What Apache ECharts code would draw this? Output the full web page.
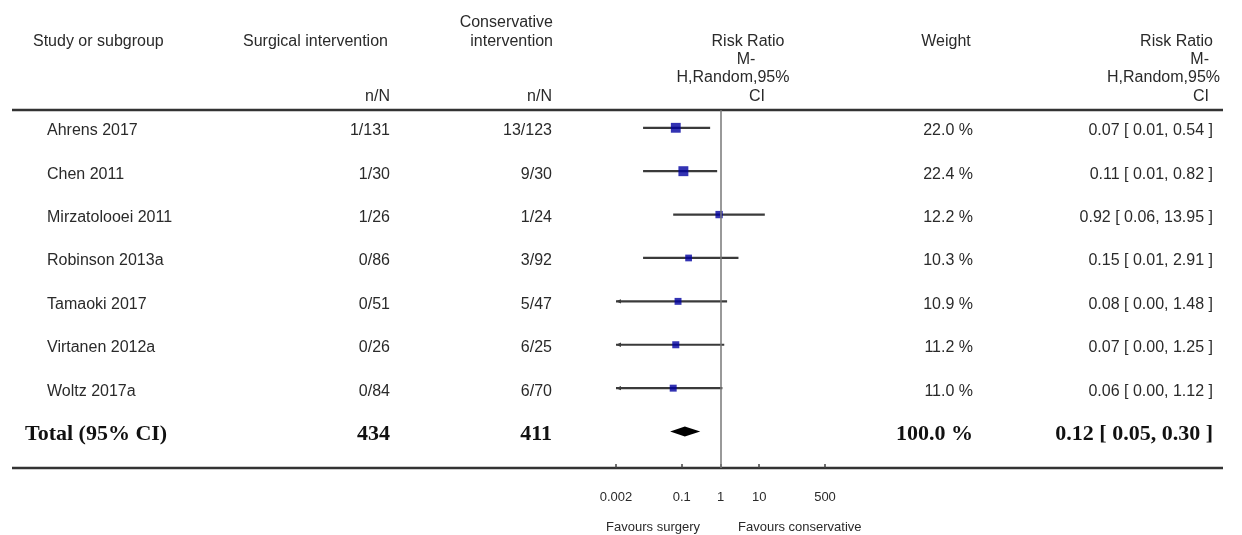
<!DOCTYPE html>
<html>
<head>
<meta charset="utf-8">
<title>Forest plot</title>
<script src="https://cdn.jsdelivr.net/npm/echarts@6/dist/echarts.min.js"></script>
<style>
  html, body { margin: 0; padding: 0; background: #fff; }
  #chart { width: 1242px; height: 535px; }
</style>
</head>
<body>
<div id="chart"></div>
<script>
// data
const studies = ['Ahrens 2017', 'Chen 2011', 'Mirzatolooei 2011', 'Robinson 2013a', 'Tamaoki 2017', 'Virtanen 2012a', 'Woltz 2017a'];
const surgEvents = [1, 1, 1, 0, 0, 0, 0];
const surgTotal = [131, 30, 26, 86, 51, 26, 84];
const consEvents = [13, 9, 1, 3, 5, 6, 6];
const consTotal = [123, 30, 24, 92, 47, 25, 70];
const weights = [22.0, 22.4, 12.2, 10.3, 10.9, 11.2, 11.0];
const rrEst = [0.07, 0.11, 0.92, 0.15, 0.08, 0.07, 0.06];
const rrLow = [0.01, 0.01, 0.06, 0.01, 0.002, 0.002, 0.002];
const rrHigh = [0.54, 0.82, 13.95, 2.91, 1.48, 1.25, 1.12];
const totalName = 'Total (95% CI)';
const totalWeight = 100.0;
const totalEst = [0.12];
const totalLow = [0.05];
const totalHigh = [0.30];
const tickValues = [0.002, 0.1, 1, 10, 500];
const tickLabels = ['0.002', '0.1', '1', '10', '500'];

const xMin = 0.002, xMax = 500;
const yMin = -0.41, yMax = 7.84;
const sans = "'Liberation Sans', Arial, sans-serif";
const serif = "'Liberation Serif', 'Times New Roman', serif";
const lineCol = '#3a3a3a';
const textCol = '#2a2a2a';

const chart = echarts.init(document.getElementById('chart'));

function tickText(v) {
  for (let i = 0; i < tickValues.length; i++) {
    if (Math.abs(Math.log10(v) - Math.log10(tickValues[i])) < 1e-6) return tickLabels[i];
  }
  return '';
}

chart.setOption({
  animation: false,
  grid: { left: 616, right: 417, top: 110, bottom: 67 },
  xAxis: {
    type: 'log',
    logBase: 10,
    min: xMin,
    max: xMax,
    position: 'bottom',
    axisLine: { show: false, onZero: false },
    splitLine: { show: false },
    axisTick: { show: true, inside: true, length: 4, customValues: tickValues, lineStyle: { color: '#444', width: 1.5 } },
    axisLabel: { customValues: tickValues, margin: 23, fontSize: 13, fontFamily: sans, color: textCol, formatter: tickText }
  },
  yAxis: { type: 'value', inverse: true, min: yMin, max: yMax, show: false },
  series: [
    {
      // confidence intervals
      type: 'custom',
      data: studies.map((s, i) => [rrLow[i], rrEst[i], rrHigh[i], i]),
      encode: { x: [0, 2], y: 3 },
      renderItem: function (params, api) {
        const lo = api.coord([api.value(0), api.value(3)]);
        const hi = api.coord([api.value(2), api.value(3)]);
        const kids = [{
          type: 'line',
          shape: { x1: lo[0], y1: lo[1], x2: hi[0], y2: hi[1] },
          style: { stroke: lineCol, lineWidth: 2.2 }
        }];
        if (api.value(0) <= xMin) {
          kids.push({
            type: 'polygon',
            shape: { points: [[lo[0], lo[1]], [lo[0] + 5, lo[1] - 2.2], [lo[0] + 5, lo[1] + 2.2]] },
            style: { fill: lineCol }
          });
        }
        return { type: 'group', children: kids };
      },
      z: 2
    },
    {
      type: 'scatter',
      symbol: 'rect',
      data: studies.map((s, i) => [rrEst[i], i, weights[i]]),
      symbolSize: v => 2.1 * Math.sqrt(v[2]),
      itemStyle: { color: '#0000a0' },
      z: 3,
      markLine: {
        silent: true,
        symbol: ['none', 'none'],
        label: { show: false },
        lineStyle: { color: '#777', width: 1.5, type: 'solid' },
        data: [{ xAxis: 1 }]
      }
    },
    {
      // pooled estimate
      type: 'custom',
      data: totalEst.map((e, i) => [totalLow[i], e, totalHigh[i], studies.length]),
      encode: { x: [0, 2], y: 3 },
      renderItem: function (params, api) {
        const lo = api.coord([api.value(0), api.value(3)]);
        const mid = api.coord([api.value(1), api.value(3)]);
        const hi = api.coord([api.value(2), api.value(3)]);
        return {
          type: 'polygon',
          shape: { points: [lo, [mid[0], mid[1] - 5], hi, [mid[0], mid[1] + 5]] },
          style: { fill: '#000' }
        };
      },
      z: 3
    }
  ]
});

// table texts, rows placed by the y axis
function rowY(i) { return chart.convertToPixel({ yAxisIndex: 0 }, i) + 3; }
function txt(x, y, text, align, extra) {
  return {
    type: 'text', x: x, y: y, silent: true,
    style: Object.assign({ text: text, align: align, verticalAlign: 'middle', font: '16px ' + sans, fill: textCol }, extra || {})
  };
}
const fmt = v => v.toFixed(2);
const g = [];
// header
g.push(txt(33, 42, 'Study or subgroup', 'left'));
g.push(txt(243, 42, 'Surgical intervention', 'left'));
g.push(txt(553, 23, 'Conservative', 'right'));
g.push(txt(553, 42, 'intervention', 'right'));
g.push(txt(390, 97, 'n/N', 'right'));
g.push(txt(552, 97, 'n/N', 'right'));
g.push(txt(748, 42, 'Risk Ratio', 'center'));
g.push(txt(746, 60, 'M-', 'center'));
g.push(txt(733, 78, 'H,Random,95%', 'center'));
g.push(txt(757, 97, 'CI', 'center'));
g.push(txt(946, 42, 'Weight', 'center'));
g.push(txt(1213, 42, 'Risk Ratio', 'right'));
g.push(txt(1209, 60, 'M-', 'right'));
g.push(txt(1220, 78, 'H,Random,95%', 'right'));
g.push(txt(1209, 97, 'CI', 'right'));
// study rows
studies.forEach((s, i) => {
  const y = rowY(i);
  g.push(txt(47, y, s, 'left'));
  g.push(txt(390, y, surgEvents[i] + '/' + surgTotal[i], 'right'));
  g.push(txt(552, y, consEvents[i] + '/' + consTotal[i], 'right'));
  g.push(txt(973, y, weights[i].toFixed(1) + ' %', 'right'));
  g.push(txt(1213, y, fmt(rrEst[i]) + ' [ ' + fmt(rrLow[i]) + ', ' + fmt(rrHigh[i]) + ' ]', 'right'));
});
// total row
const ty = rowY(studies.length);
const boldFont = { font: 'bold 22px ' + serif, fill: '#111' };
g.push(txt(25, ty, totalName, 'left', boldFont));
g.push(txt(390, ty, String(surgTotal.reduce((a, b) => a + b, 0)), 'right', boldFont));
g.push(txt(552, ty, String(consTotal.reduce((a, b) => a + b, 0)), 'right', boldFont));
g.push(txt(973, ty, totalWeight.toFixed(1) + ' %', 'right', boldFont));
g.push(txt(1213, ty, fmt(totalEst[0]) + ' [ ' + fmt(totalLow[0]) + ', ' + fmt(totalHigh[0]) + ' ]', 'right', boldFont));
// rules
g.push({ type: 'line', silent: true, shape: { x1: 12, y1: 110, x2: 1223, y2: 110 }, style: { stroke: '#333', lineWidth: 2.5 } });
g.push({ type: 'line', silent: true, shape: { x1: 12, y1: 468, x2: 1223, y2: 468 }, style: { stroke: '#333', lineWidth: 2.5 } });
// favours
g.push(txt(700, 527, 'Favours surgery', 'right', { font: '13px ' + sans }));
g.push(txt(738, 527, 'Favours conservative', 'left', { font: '13px ' + sans }));

chart.setOption({ graphic: g });
</script>
</body>
</html>
